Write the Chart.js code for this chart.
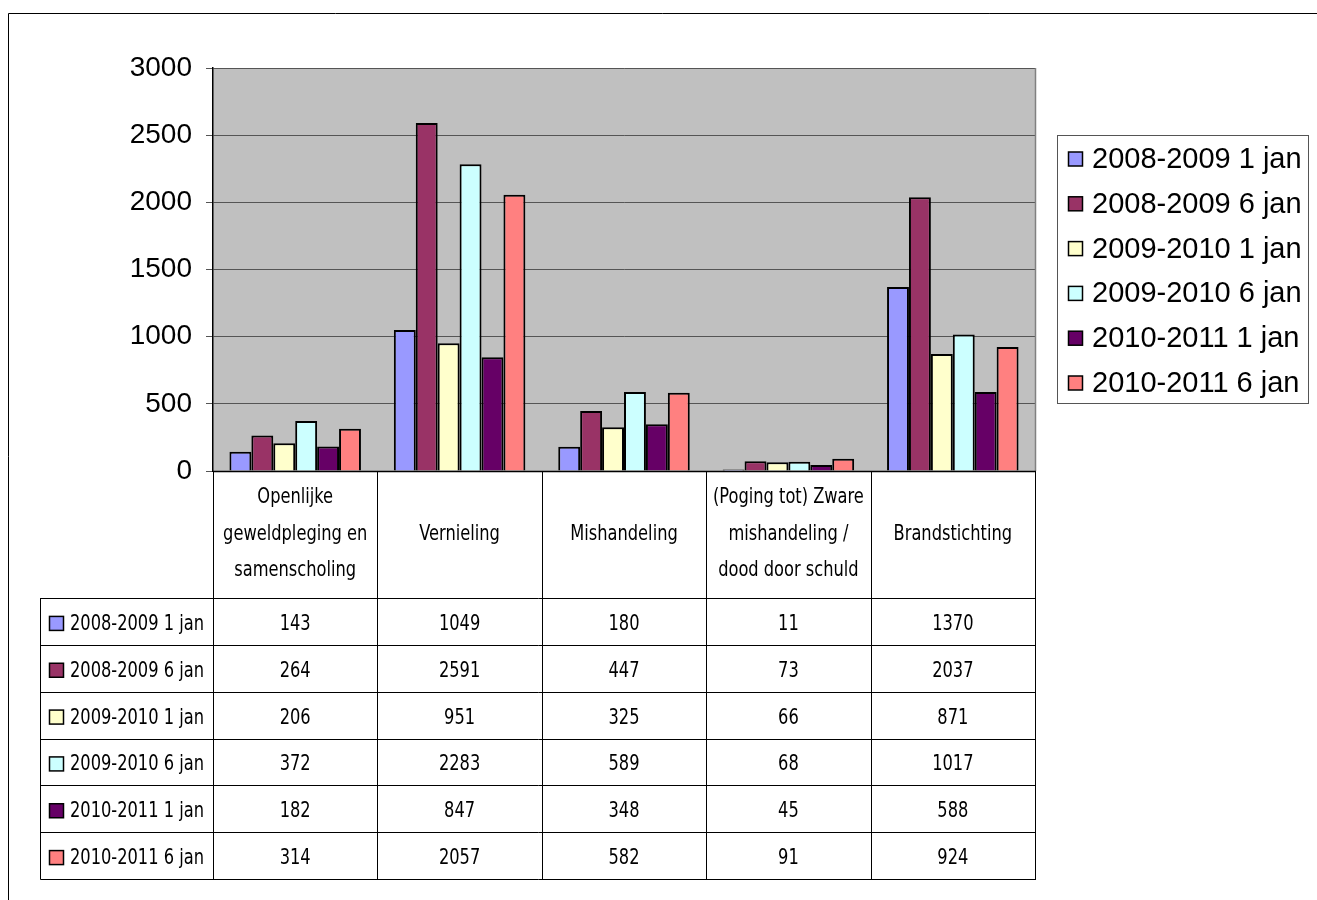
<!DOCTYPE html>
<html>
<head>
<meta charset="utf-8">
<script src="https://cdn.jsdelivr.net/npm/chart.js@4"></script>
<style>
  html, body { margin: 0; padding: 0; background: #ffffff; }
  #wrap { width: 1317px; height: 900px; position: relative; }
</style>
</head>
<body>
<div id="wrap"><canvas id="c" width="1317" height="900"></canvas></div>
<script>
// ---- data ----
const categories = [
  ["Openlijke", "geweldpleging en", "samenscholing"],
  ["Vernieling"],
  ["Mishandeling"],
  ["(Poging tot) Zware", "mishandeling /", "dood door schuld"],
  ["Brandstichting"]
];
const seriesNames = [
  "2008-2009 1 jan", "2008-2009 6 jan", "2009-2010 1 jan",
  "2009-2010 6 jan", "2010-2011 1 jan", "2010-2011 6 jan"
];
const s0809_1 = [143, 1049, 180, 11, 1370];
const s0809_6 = [264, 2591, 447, 73, 2037];
const s0910_1 = [206, 951, 325, 66, 871];
const s0910_6 = [372, 2283, 589, 68, 1017];
const s1011_1 = [182, 847, 348, 45, 588];
const s1011_6 = [314, 2057, 582, 91, 924];
const seriesValues = [s0809_1, s0809_6, s0910_1, s0910_6, s1011_1, s1011_6];
const seriesColors = ["#9999FF", "#993366", "#FFFFCC", "#CCFFFF", "#660066", "#FF8080"];
const yTicks = [0, 500, 1000, 1500, 2000, 2500, 3000];

const narrow = '"DejaVu Sans Condensed", "Liberation Sans", sans-serif';
const sans = '"Liberation Sans", Arial, sans-serif';
const SX = 0.86; // horizontal squeeze to mimic a narrow face

function narrowText(ctx, text, x, y, align) {
  ctx.save();
  ctx.translate(x, y);
  ctx.scale(SX, 1);
  ctx.textAlign = align;
  ctx.fillText(text, 0, 0);
  ctx.restore();
}

const decor = {
  id: 'decor',
  beforeDraw(chart) {
    const ctx = chart.ctx, a = chart.chartArea;
    ctx.save();
    ctx.fillStyle = '#ffffff';
    ctx.fillRect(0, 0, chart.width, chart.height);
    ctx.strokeStyle = '#000000';
    ctx.lineWidth = 1;
    ctx.beginPath();
    ctx.moveTo(8.5, 900); ctx.lineTo(8.5, 13.5); ctx.lineTo(1317, 13.5);
    ctx.stroke();
    ctx.fillStyle = '#C0C0C0';
    ctx.fillRect(a.left, a.top, a.right - a.left, a.bottom - a.top);
    ctx.restore();
  },
  afterDraw(chart) {
    const ctx = chart.ctx, a = chart.chartArea;
    const xs = chart.scales.x;
    const n = categories.length;
    const half = (xs.getPixelForValue(1) - xs.getPixelForValue(0)) / 2;
    const bounds = [];
    for (let i = 0; i < n; i++) bounds.push(xs.getPixelForValue(i) - half);
    bounds.push(xs.getPixelForValue(n - 1) + half);
    ctx.save();
    ctx.strokeStyle = '#808080';
    ctx.lineWidth = 1.5;
    ctx.beginPath();
    ctx.moveTo(Math.round(a.right) + 0.5, a.top);
    ctx.lineTo(Math.round(a.right) + 0.5, a.bottom);
    ctx.stroke();
    ctx.strokeStyle = '#000000';
    ctx.lineWidth = 1.5;
    ctx.beginPath();
    ctx.moveTo(a.left, Math.round(a.bottom) + 0.5);
    ctx.lineTo(a.right + 1, Math.round(a.bottom) + 0.5);
    ctx.stroke();

    // table
    const headTop = a.bottom, headBottom = 598;
    const rowH = (879 - 598) / seriesNames.length;
    const tableBottom = headBottom + rowH * seriesNames.length;
    const labelLeft = 40;
    ctx.strokeStyle = '#000000';
    ctx.lineWidth = 1;
    ctx.beginPath();
    bounds.forEach(b => {
      const x = Math.round(b) + 0.5;
      ctx.moveTo(x, headTop); ctx.lineTo(x, tableBottom);
    });
    for (let r = 0; r <= seriesNames.length; r++) {
      const y = Math.round(headBottom + r * rowH) + 0.5;
      ctx.moveTo(labelLeft + 0.5, y); ctx.lineTo(bounds[n] + 1, y);
    }
    ctx.moveTo(labelLeft + 0.5, headBottom); ctx.lineTo(labelLeft + 0.5, tableBottom + 0.5);
    ctx.stroke();

    ctx.fillStyle = '#000000';
    ctx.font = '21px ' + narrow;
    ctx.textBaseline = 'middle';
    categories.forEach((lines, i) => {
      const cx = xs.getPixelForValue(i);
      const mid = (headTop + headBottom) / 2;
      const lh = 36.5;
      const y0 = mid - (lines.length - 1) * lh / 2;
      lines.forEach((t, k) => narrowText(ctx, t, cx, y0 + k * lh, 'center'));
    });
    seriesNames.forEach((name, r) => {
      const cy = headBottom + r * rowH + rowH / 2 + 3;
      ctx.fillStyle = seriesColors[r];
      ctx.fillRect(49.5, cy - 8, 14, 14);
      ctx.strokeStyle = '#000000';
      ctx.lineWidth = 1.5;
      ctx.strokeRect(49.5, cy - 8, 14, 14);
      ctx.fillStyle = '#000000';
      narrowText(ctx, name, 70, cy, 'left');
      seriesValues[r].forEach((v, i) => narrowText(ctx, String(v), xs.getPixelForValue(i), cy, 'center'));
    });

    // legend
    ctx.strokeStyle = '#555555';
    ctx.lineWidth = 1;
    ctx.strokeRect(1057.5, 135.5, 251, 268);
    ctx.font = '29px ' + sans;
    ctx.textAlign = 'left';
    seriesNames.forEach((name, r) => {
      const cy = 159 + r * 44.8;
      ctx.fillStyle = seriesColors[r];
      ctx.fillRect(1068.5, cy - 7, 14, 14);
      ctx.strokeStyle = '#000000';
      ctx.lineWidth = 1.5;
      ctx.strokeRect(1068.5, cy - 7, 14, 14);
      ctx.fillStyle = '#000000';
      ctx.fillText(name, 1092, cy + 1);
    });
    ctx.restore();
  }
};

new Chart(document.getElementById('c'), {
  type: 'bar',
  data: {
    labels: categories.map(c => c.join(' ')),
    datasets: seriesNames.map((name, i) => ({
      label: name,
      data: seriesValues[i],
      backgroundColor: seriesColors[i],
      borderColor: '#000000',
      borderWidth: 2,
      borderSkipped: 'bottom',
      categoryPercentage: 0.8,
      barPercentage: 1.0
    }))
  },
  options: {
    responsive: false,
    animation: false,
    devicePixelRatio: 1,
    layout: { padding: { left: 0, top: 68, right: 282, bottom: 429 } },
    plugins: { legend: { display: false }, tooltip: { enabled: false } },
    scales: {
      x: { display: false },
      y: {
        min: 0, max: 3000,
        afterFit(scale) { scale.width = 213; },
        afterBuildTicks(scale) { scale.ticks = yTicks.map(v => ({ value: v })); },
        ticks: { color: '#000000', font: { family: sans, size: 28 }, padding: 14,
                 callback: v => String(v) },
        grid: { color: '#555555', lineWidth: 1, tickLength: 7, drawOnChartArea: true },
        border: { color: '#000000', width: 1.5 }
      }
    }
  },
  plugins: [decor]
});
</script>
</body>
</html>
